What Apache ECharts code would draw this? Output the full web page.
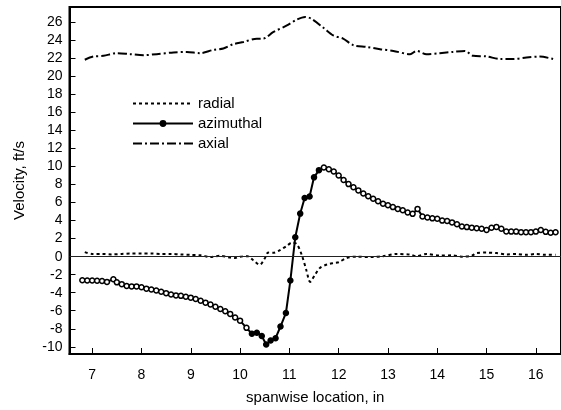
<!DOCTYPE html>
<html>
<head>
<meta charset="utf-8">
<script src="https://cdn.jsdelivr.net/npm/echarts@6/dist/echarts.min.js"></script>
<style>
html,body{margin:0;padding:0;background:#fff;}
#chart{width:561px;height:410px;}
</style>
</head>
<body>
<div id="chart"></div>
<script>
const xTicks = [7, 8, 9, 10, 11, 12, 13, 14, 15, 16];
const yTicks = [-10, -8, -6, -4, -2, 0, 2, 4, 6, 8, 10, 12, 14, 16, 18, 20, 22, 24, 26];

const aziX = [6.8,6.9,7.0,7.1,7.2,7.3,7.43,7.5,7.6,7.7,7.8,7.9,8.0,8.1,8.2,8.3,8.4,8.5,8.6,8.7,8.8,8.9,9.0,9.1,9.2,9.3,9.4,9.5,9.6,9.7,9.8,9.9,10.0,10.13,10.24,10.34,10.44,10.53,10.62,10.72,10.82,10.93,11.02,11.12,11.22,11.31,11.41,11.5,11.6,11.7,11.8,11.9,12.0,12.1,12.2,12.3,12.4,12.5,12.6,12.7,12.8,12.9,13.0,13.1,13.2,13.3,13.4,13.5,13.6,13.7,13.8,13.9,14.0,14.1,14.2,14.3,14.4,14.5,14.6,14.7,14.8,14.9,15.0,15.1,15.2,15.3,15.4,15.5,15.6,15.7,15.8,15.9,16.0,16.1,16.2,16.3,16.4];
const aziY = [-2.62,-2.65,-2.65,-2.68,-2.7,-2.8,-2.5,-2.85,-3.05,-3.25,-3.3,-3.3,-3.4,-3.55,-3.65,-3.75,-3.9,-4.05,-4.2,-4.3,-4.35,-4.45,-4.55,-4.7,-4.9,-5.1,-5.3,-5.55,-5.8,-6.05,-6.35,-6.75,-7.1,-7.9,-8.55,-8.45,-8.8,-9.75,-9.3,-9.05,-7.75,-6.25,-2.65,2.16,4.78,6.5,6.68,8.8,9.6,9.9,9.7,9.45,9.0,8.5,8.05,7.7,7.35,7.0,6.7,6.42,6.15,5.87,5.7,5.5,5.3,5.15,4.9,4.75,5.3,4.45,4.35,4.25,4.2,4.0,3.95,3.8,3.6,3.35,3.28,3.22,3.15,3.1,2.95,3.2,3.3,3.1,2.8,2.78,2.78,2.72,2.7,2.72,2.78,2.95,2.75,2.65,2.7];

const radX = [6.85,7.0,7.2,7.4,7.6,7.8,8.0,8.2,8.4,8.6,8.8,9.0,9.2,9.4,9.6,9.8,9.9,10.0,10.15,10.27,10.4,10.5,10.57,10.67,10.8,10.95,11.05,11.15,11.25,11.35,11.42,11.52,11.62,11.76,11.9,12.0,12.16,12.36,12.64,12.9,13.17,13.45,13.58,13.78,14.05,14.3,14.5,14.7,14.8,15.0,15.2,15.4,15.6,15.8,16.0,16.2,16.4];
const radY = [0.5,0.3,0.3,0.25,0.3,0.35,0.35,0.35,0.3,0.3,0.25,0.2,0.15,-0.05,0.1,-0.1,-0.15,0.0,0.05,-0.4,-0.9,-0.2,0.45,0.42,0.7,1.2,1.55,1.4,0.2,-1.6,-2.8,-2.0,-1.25,-0.87,-0.7,-0.62,-0.15,0.0,-0.05,0.05,0.3,0.22,0.05,0.3,0.12,0.15,0.0,0.1,0.4,0.45,0.4,0.25,0.3,0.2,0.3,0.2,0.2];

const axX = [6.85,7.02,7.23,7.5,7.77,8.04,8.31,8.65,8.92,9.19,9.46,9.66,9.86,10.07,10.34,10.47,10.67,10.95,11.15,11.32,11.45,11.69,11.89,12.09,12.3,12.57,12.84,13.11,13.45,13.58,13.78,14.05,14.32,14.56,14.73,15.0,15.27,15.54,15.81,16.08,16.35];
const axY = [21.85,22.2,22.28,22.58,22.47,22.36,22.47,22.66,22.72,22.58,22.94,23.1,23.57,23.82,24.19,24.19,24.91,25.65,26.3,26.6,26.38,25.4,24.55,24.19,23.46,23.27,23.02,22.83,22.47,22.83,22.47,22.58,22.72,22.83,22.28,22.22,21.93,21.93,22.1,22.2,21.93];

const pairs = (xs, ys) => xs.map((x, i) => [x, ys[i]]);
const FONT = '"Liberation Sans", Arial, sans-serif';

const chart = echarts.init(document.getElementById('chart'), null, {renderer: 'canvas'});
chart.setOption({
  animation: false,
  backgroundColor: '#fff',
  textStyle: {fontFamily: FONT, color: '#000'},
  grid: {left: 69.5, right: -3, top: 7, bottom: 51, show: true, borderColor: '#000', borderWidth: 2, backgroundColor: 'transparent'},
  legend: {
    orient: 'vertical', left: 127, top: 91, itemWidth: 60, itemHeight: 6, itemGap: 5,
    textStyle: {fontFamily: FONT, fontSize: 15, color: '#000'},
    data: [
      {name: 'radial', itemStyle: {opacity: 0}},
      {name: 'azimuthal', itemStyle: {color: '#000', borderColor: '#000'}},
      {name: 'axial', itemStyle: {opacity: 0}}
    ]
  },
  xAxis: {
    type: 'value', min: 6.54, max: 16.51,
    name: 'spanwise location, in', nameLocation: 'middle', nameGap: 36,
    nameTextStyle: {fontFamily: FONT, fontSize: 15, color: '#000'},
    axisLine: {show: true, onZero: false, lineStyle: {color: '#000', width: 2}},
    axisTick: {show: true, inside: true, length: 6, customValues: xTicks, lineStyle: {color: '#000', width: 1}},
    axisLabel: {customValues: xTicks, margin: 14, fontFamily: FONT, fontSize: 14, color: '#000'},
    splitLine: {show: false}
  },
  yAxis: {
    type: 'value', min: -10.8, max: 27.7,
    name: 'Velocity, ft/s', nameLocation: 'middle', nameGap: 42, nameRotate: 90,
    nameTextStyle: {fontFamily: FONT, fontSize: 15, color: '#000'},
    axisLine: {show: true, lineStyle: {color: '#000', width: 2}},
    axisTick: {show: true, inside: true, length: 6, customValues: yTicks, lineStyle: {color: '#000', width: 1}},
    axisLabel: {customValues: yTicks, margin: 7, fontFamily: FONT, fontSize: 14, color: '#000'},
    splitLine: {show: false}
  },
  series: [
    {
      name: 'radial', type: 'line', data: pairs(radX, radY), showSymbol: false, symbol: 'none',
      smooth: 0.3,
      lineStyle: {color: '#000', width: 2, type: [3, 3]},
      itemStyle: {color: '#000'},
      markLine: {
        silent: true, symbol: 'none', label: {show: false},
        lineStyle: {color: '#222', width: 1, type: 'solid'},
        data: [{yAxis: 0}]
      },
      z: 3
    },
    {
      name: 'azimuthal', type: 'line', data: pairs(aziX, aziY),
      symbol: 'circle', symbolSize: 5, showSymbol: true,
      lineStyle: {color: '#000', width: 2},
      itemStyle: {
        color: function (p) { const x = p.value[0]; return (x >= 10.2 && x <= 11.62) ? '#000' : '#fff'; },
        borderColor: '#000', borderWidth: 1.5
      },
      z: 4
    },
    {
      name: 'axial', type: 'line', data: pairs(axX, axY), showSymbol: false, symbol: 'none',
      smooth: 0.3,
      lineStyle: {color: '#000', width: 2, type: [9, 3, 2, 3]},
      itemStyle: {color: '#000'},
      z: 3
    }
  ]
});
</script>
</body>
</html>
